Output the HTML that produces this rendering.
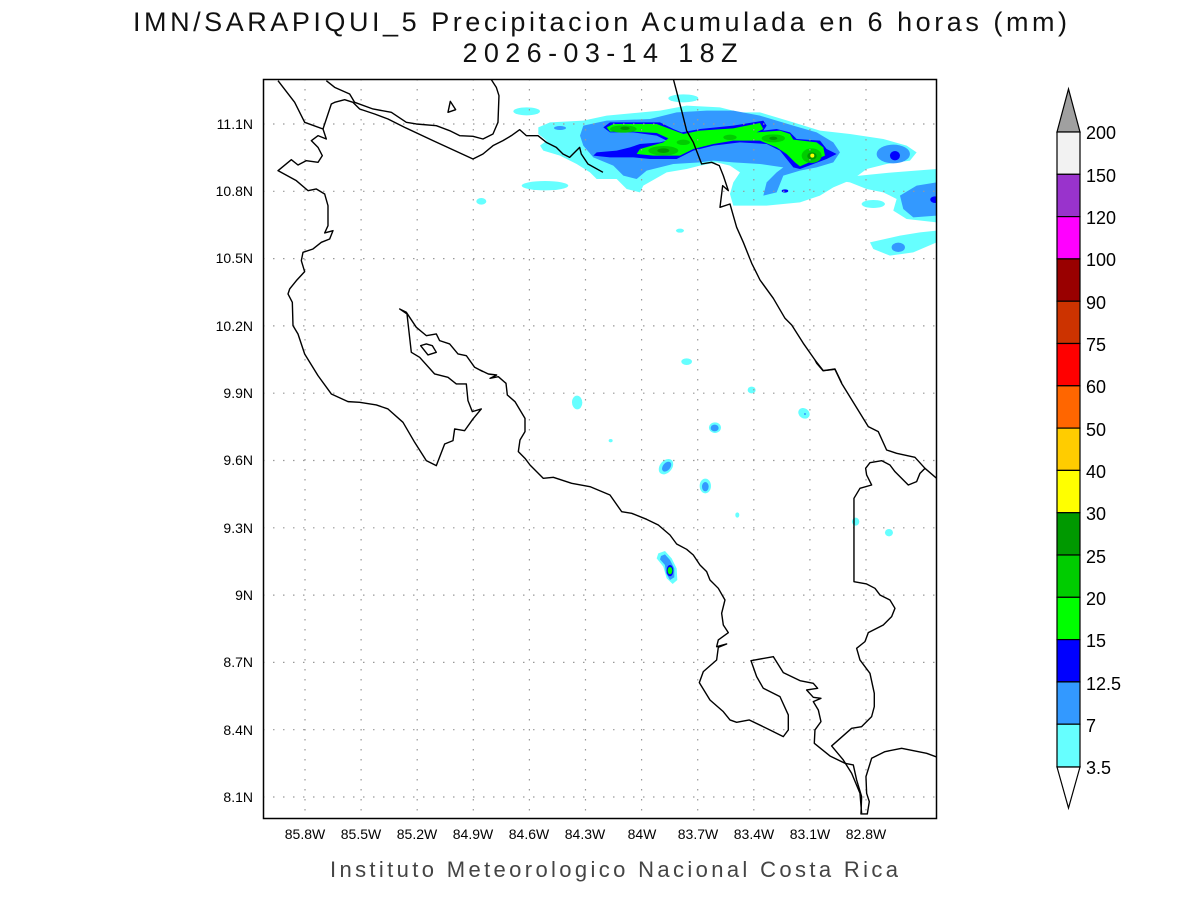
<!DOCTYPE html>
<html><head><meta charset="utf-8"><style>html,body{margin:0;padding:0;background:#fff}svg{display:block}</style></head>
<body>
<svg width="1200" height="900" viewBox="0 0 1200 900" xmlns="http://www.w3.org/2000/svg" font-family="Liberation Sans, sans-serif">
<rect width="1200" height="900" fill="#fff"/>
<text x="600" y="31" font-size="27" text-anchor="middle" textLength="934" lengthAdjust="spacing" fill="#111">IMN/SARAPIQUI_5 Precipitacion Acumulada en 6 horas (mm)</text>
<text x="600" y="62" font-size="27" text-anchor="middle" textLength="275" lengthAdjust="spacing" fill="#111">2026-03-14 18Z</text>
<text x="614" y="877" font-size="22" text-anchor="middle" textLength="568" lengthAdjust="spacing" fill="#444">Instituto Meteorologico Nacional Costa Rica</text>

<clipPath id="c"><rect x="263" y="79" width="674" height="740"/></clipPath>
<g clip-path="url(#c)">
<g transform="translate(500,79) scale(0.3333)">
<g fill="#66ffff">
<path d="M115,145 L150,130 250,125 320,110 480,95 560,80 660,85 720,100 780,100 830,115 880,130 960,155 1050,165 1150,180 1220,200 1250,220 1230,245 1160,255 1100,270 1060,300 1000,325 960,350 900,370 800,380 700,380 690,345 700,310 720,280 690,260 650,250 600,260 560,270 500,280 430,320 420,340 380,330 350,300 290,300 270,280 230,255 180,230 130,215 120,200 140,185 115,165Z"/>
<ellipse cx="80" cy="97" rx="40" ry="12"/>
<ellipse cx="550" cy="58" rx="45" ry="12"/>
<ellipse cx="135" cy="320" rx="70" ry="14"/>
<path d="M980,300 L1080,290 1180,280 1310,270 1310,430 1220,420 1180,395 1190,360 1150,340 1100,330 1050,310Z"/>
<path d="M1110,490 L1200,470 1260,460 1310,455 1310,490 1240,520 1170,530 1120,510Z"/>
<ellipse cx="1120" cy="375" rx="35" ry="12"/>
<ellipse cx="540" cy="455" rx="12" ry="6"/>
</g>
<g fill="#3399ff">
<path d="M250,140 L320,125 450,120 530,100 620,95 700,95 780,110 830,125 880,140 950,160 1000,190 1020,220 1000,250 950,265 900,275 850,290 830,340 790,350 800,310 830,280 850,265 780,255 700,250 640,245 600,250 520,255 440,275 410,300 370,290 340,260 280,235 250,200 240,170Z"/>
<ellipse cx="1180" cy="225" rx="50" ry="28"/>
<path d="M1200,350 L1250,320 1310,310 1310,410 1240,415 1210,390Z"/>
<ellipse cx="1195" cy="505" rx="20" ry="14"/>
<ellipse cx="180" cy="147" rx="18" ry="6"/>
</g>
<g fill="#0000ff">
<path d="M310,145 L330,130 480,130 520,150 545,160 600,150 700,140 790,125 800,140 790,155 830,150 870,160 890,180 960,185 980,210 1010,225 980,240 940,255 900,270 880,265 860,240 840,215 800,195 720,190 640,200 580,215 530,240 450,240 400,235 330,235 280,230 290,220 350,215 390,205 420,195 480,190 500,185 470,170 400,160 330,160Z"/>
<ellipse cx="1185" cy="230" rx="15" ry="14"/>
<ellipse cx="1305" cy="362" rx="14" ry="10"/>
<ellipse cx="855" cy="336" rx="10" ry="5"/>
</g>
<g fill="#00ff00">
<path d="M320,145 L340,135 470,135 510,150 550,165 600,155 700,148 780,132 790,150 770,160 840,155 870,165 880,182 950,190 970,205 975,230 940,245 900,262 885,250 860,225 830,205 780,185 700,185 640,195 580,210 540,230 460,230 410,225 420,210 490,190 505,178 470,162 400,158 330,158Z"/>
</g>
<g fill="#00cc00">
<ellipse cx="370" cy="150" rx="40" ry="11"/><ellipse cx="490" cy="215" rx="45" ry="14"/>
<ellipse cx="820" cy="178" rx="35" ry="12"/><ellipse cx="935" cy="230" rx="30" ry="22"/>
<ellipse cx="690" cy="175" rx="20" ry="8"/><ellipse cx="550" cy="190" rx="20" ry="8"/>
</g>
<g fill="#009900"><ellipse cx="375" cy="148" rx="14" ry="5"/><ellipse cx="490" cy="215" rx="18" ry="7"/><ellipse cx="820" cy="178" rx="12" ry="5"/><ellipse cx="936" cy="231" rx="14" ry="11"/></g>
<circle cx="937" cy="230" r="6" fill="#ffff00"/>
</g>
<g transform="translate(263,79) scale(0.3333)" fill="#66ffff"><ellipse cx="655" cy="367" rx="15" ry="10"/><ellipse cx="942" cy="970" rx="15" ry="20"/></g>
<g transform="translate(480,360) scale(0.3333)">
<g fill="#66ffff">
<ellipse cx="292" cy="128" rx="15" ry="20"/><ellipse cx="620" cy="5" rx="16" ry="10"/><ellipse cx="815" cy="90" rx="12" ry="10"/>
<ellipse cx="972" cy="160" rx="18" ry="15" transform="rotate(35 972 160)"/><ellipse cx="705" cy="203" rx="18" ry="16"/>
<ellipse cx="558" cy="320" rx="26" ry="18" transform="rotate(-50 558 320)"/><ellipse cx="676" cy="378" rx="17" ry="22"/>
<ellipse cx="392" cy="242" rx="6" ry="5"/><ellipse cx="772" cy="465" rx="6" ry="8"/><ellipse cx="1127" cy="485" rx="11" ry="12"/><ellipse cx="1227" cy="518" rx="12" ry="11"/>
<path d="M535,580 L555,573 575,595 590,625 592,660 578,672 560,655 550,620 530,595Z"/>
</g>
<g fill="#3399ff">
<ellipse cx="704" cy="204" rx="12" ry="10"/><ellipse cx="560" cy="320" rx="17" ry="11" transform="rotate(-50 560 320)"/><ellipse cx="676" cy="380" rx="10" ry="14"/>
<path d="M543,588 L555,583 570,600 583,625 583,652 570,660 558,640 555,615 540,598Z"/>
<ellipse cx="975" cy="162" rx="3" ry="3"/>
</g>
<ellipse cx="570" cy="632" rx="10" ry="17" fill="#0000ff"/>
<ellipse cx="570" cy="632" rx="7" ry="11" fill="#00ff00"/>
</g>
</g>

<g stroke="#999" stroke-width="1.2" stroke-dasharray="1.5,8.5" fill="none">
<path d="M305,79V819M361.1,79V819M417.2,79V819M473.3,79V819M529.4,79V819M585.5,79V819M641.6,79V819M697.7,79V819M753.8,79V819M809.9,79V819M866,79V819"/>
<path d="M263,124H937M263,191.3H937M263,258.6H937M263,325.9H937M263,393.2H937M263,460.5H937M263,527.8H937M263,595.1H937M263,662.4H937M263,729.7H937M263,797H937"/>
</g>

<g clip-path="url(#c)" fill="none" stroke="#000">
<g transform="translate(263,79) scale(0.3333)" stroke-width="4.2" stroke-linejoin="round">
<polyline points="45,5 95,70 125,130 180,150 190,180 165,170 145,185 165,205 178,230 165,250 130,245 105,258 85,242 45,275 100,305 135,335 160,330 185,345 195,380 195,440 185,462 210,455 200,480 175,490 150,510 120,520 115,545 125,578 100,605 80,630 75,645 88,670 90,740 105,765 125,825 165,890 205,945 255,968 290,970 340,978 375,990 420,1030 455,1090 490,1145 520,1160 545,1095 570,1085 575,1050 605,1055 630,1020 655,990 628,998 615,965 610,915 580,915 555,895 515,885 470,835 445,820 432,705 410,690 430,700 460,745 490,770 520,765 530,785 560,795 585,825 610,830 635,865 660,878"/>
<polyline points="180,150 205,75 215,70 245,62 270,70 290,90 335,105 375,120 425,145 510,185 630,240 660,225 690,200 720,185 745,170 770,152 790,170 825,170 850,190 880,205 900,225 920,235 950,205 955,225 975,255 1020,280"/>
<polyline points="190,5 215,25 260,45 275,70 330,90 385,100 430,130 460,135 520,140 560,155 590,170 630,172 660,180 690,165 705,130 708,50 700,25 685,2"/>
<polygon points="555,100 562,67 578,92"/>
<polygon points="473,800 490,795 508,800 520,820 495,828"/>
</g>
<g transform="translate(480,360) scale(0.3333)" stroke-width="4.2" stroke-linejoin="round">
<polyline points="0,30 25,42 50,45 30,55 55,50 78,70 82,105 105,125 135,175 135,215 120,240 115,275 135,295 150,315 190,355 220,352 275,370 330,380 390,405 425,455 455,460 500,478 535,495 570,525 590,552 620,568 640,585 660,615 680,635 690,660 715,685 735,720 725,760 730,795 745,818 715,840 710,860 740,852 715,862 710,900 670,935 658,968 690,1020 730,1055 750,1080 770,1087 808,1080 870,1110 910,1130 925,1110 925,1065 900,1010 850,985 830,950 813,902 880,890 910,938 960,962 1000,970 1013,985 980,990 1000,1012 1023,1015 1000,1025 1015,1050 1023,1085 1005,1110 1003,1150 1050,1188 1095,1210 1120,1215 1130,1260 1145,1310 1143,1362 1162,1362 1168,1325 1160,1300 1158,1250 1175,1195 1215,1175 1265,1165 1340,1180 1375,1193"/>
<polyline points="1145,1360 1140,1300 1115,1240 1090,1200 1055,1158 1115,1105 1145,1100 1175,1070 1183,1040 1183,1000 1170,940 1140,900 1130,865 1155,845 1165,818 1210,795 1235,770 1245,745 1230,720 1200,705 1185,685 1160,672 1122,665 1122,415 1140,385 1175,375 1160,345 1157,325 1170,308 1205,302 1230,315 1245,335 1285,375 1310,365 1320,340 1335,325 1370,355"/>
<polyline points="1005,0 1030,32 1065,28 1085,70 1125,135 1165,200 1195,215 1220,270 1250,280 1305,292 1335,325"/>
</g>
<g transform="translate(500,79) scale(0.3333)" stroke-width="4.2" stroke-linejoin="round">
<polyline points="520,0 545,95 560,155 580,190 605,255 635,250 658,260 670,290 685,335 668,320 665,345 660,385 690,375 700,410 710,445 730,490 750,540"/>
</g>
<polyline stroke-width="1.4" stroke-linejoin="round" points="750,259 751.7,263.3 756.7,273.3 760,280 773.3,298.3 785,318.3 791.7,325 803.3,343.3 815,360 816.7,363.3 823,370.7 835,369 841.7,383"/>
</g>

<rect x="263.5" y="79.5" width="673" height="739" fill="none" stroke="#000" stroke-width="1.5"/>

<g font-size="14" fill="#000" text-anchor="middle">
<text x="305" y="839">85.8W</text><text x="361" y="839">85.5W</text><text x="417" y="839">85.2W</text><text x="473" y="839">84.9W</text><text x="529" y="839">84.6W</text><text x="585" y="839">84.3W</text><text x="642" y="839">84W</text><text x="698" y="839">83.7W</text><text x="754" y="839">83.4W</text><text x="810" y="839">83.1W</text><text x="866" y="839">82.8W</text>
</g>
<g font-size="14" fill="#000" text-anchor="end">
<text x="253" y="129">11.1N</text><text x="253" y="196">10.8N</text><text x="253" y="263">10.5N</text><text x="253" y="331">10.2N</text><text x="253" y="398">9.9N</text><text x="253" y="465">9.6N</text><text x="253" y="533">9.3N</text><text x="253" y="600">9N</text><text x="253" y="667">8.7N</text><text x="253" y="735">8.4N</text><text x="253" y="802">8.1N</text>
</g>

<g stroke="#000" stroke-width="1.2">
<polygon points="1057,132 1068.5,89 1080,132" fill="#a0a0a0"/>
<rect x="1057" y="132" width="23" height="42.3" fill="#f2f2f2"/>
<rect x="1057" y="174.3" width="23" height="42.3" fill="#9933cc"/>
<rect x="1057" y="216.6" width="23" height="42.3" fill="#ff00ff"/>
<rect x="1057" y="258.9" width="23" height="42.3" fill="#990000"/>
<rect x="1057" y="301.2" width="23" height="42.3" fill="#cc3300"/>
<rect x="1057" y="343.5" width="23" height="42.3" fill="#ff0000"/>
<rect x="1057" y="385.8" width="23" height="42.3" fill="#ff6600"/>
<rect x="1057" y="428.1" width="23" height="42.3" fill="#ffcc00"/>
<rect x="1057" y="470.4" width="23" height="42.3" fill="#ffff00"/>
<rect x="1057" y="512.7" width="23" height="42.3" fill="#009900"/>
<rect x="1057" y="555" width="23" height="42.3" fill="#00cc00"/>
<rect x="1057" y="597.3" width="23" height="42.3" fill="#00ff00"/>
<rect x="1057" y="639.6" width="23" height="42.3" fill="#0000ff"/>
<rect x="1057" y="681.9" width="23" height="42.3" fill="#3399ff"/>
<rect x="1057" y="724.2" width="23" height="42.8" fill="#66ffff"/>
<polygon points="1057,767 1068.5,808 1080,767" fill="#fff"/>
</g>
<g font-size="18" fill="#000">
<text x="1086" y="139">200</text><text x="1086" y="182">150</text><text x="1086" y="224">120</text><text x="1086" y="266">100</text><text x="1086" y="309">90</text><text x="1086" y="351">75</text><text x="1086" y="393">60</text><text x="1086" y="436">50</text><text x="1086" y="478">40</text><text x="1086" y="520">30</text><text x="1086" y="563">25</text><text x="1086" y="605">20</text><text x="1086" y="647">15</text><text x="1086" y="690">12.5</text><text x="1086" y="732">7</text><text x="1086" y="774">3.5</text>
</g>
</svg>
</body></html>
